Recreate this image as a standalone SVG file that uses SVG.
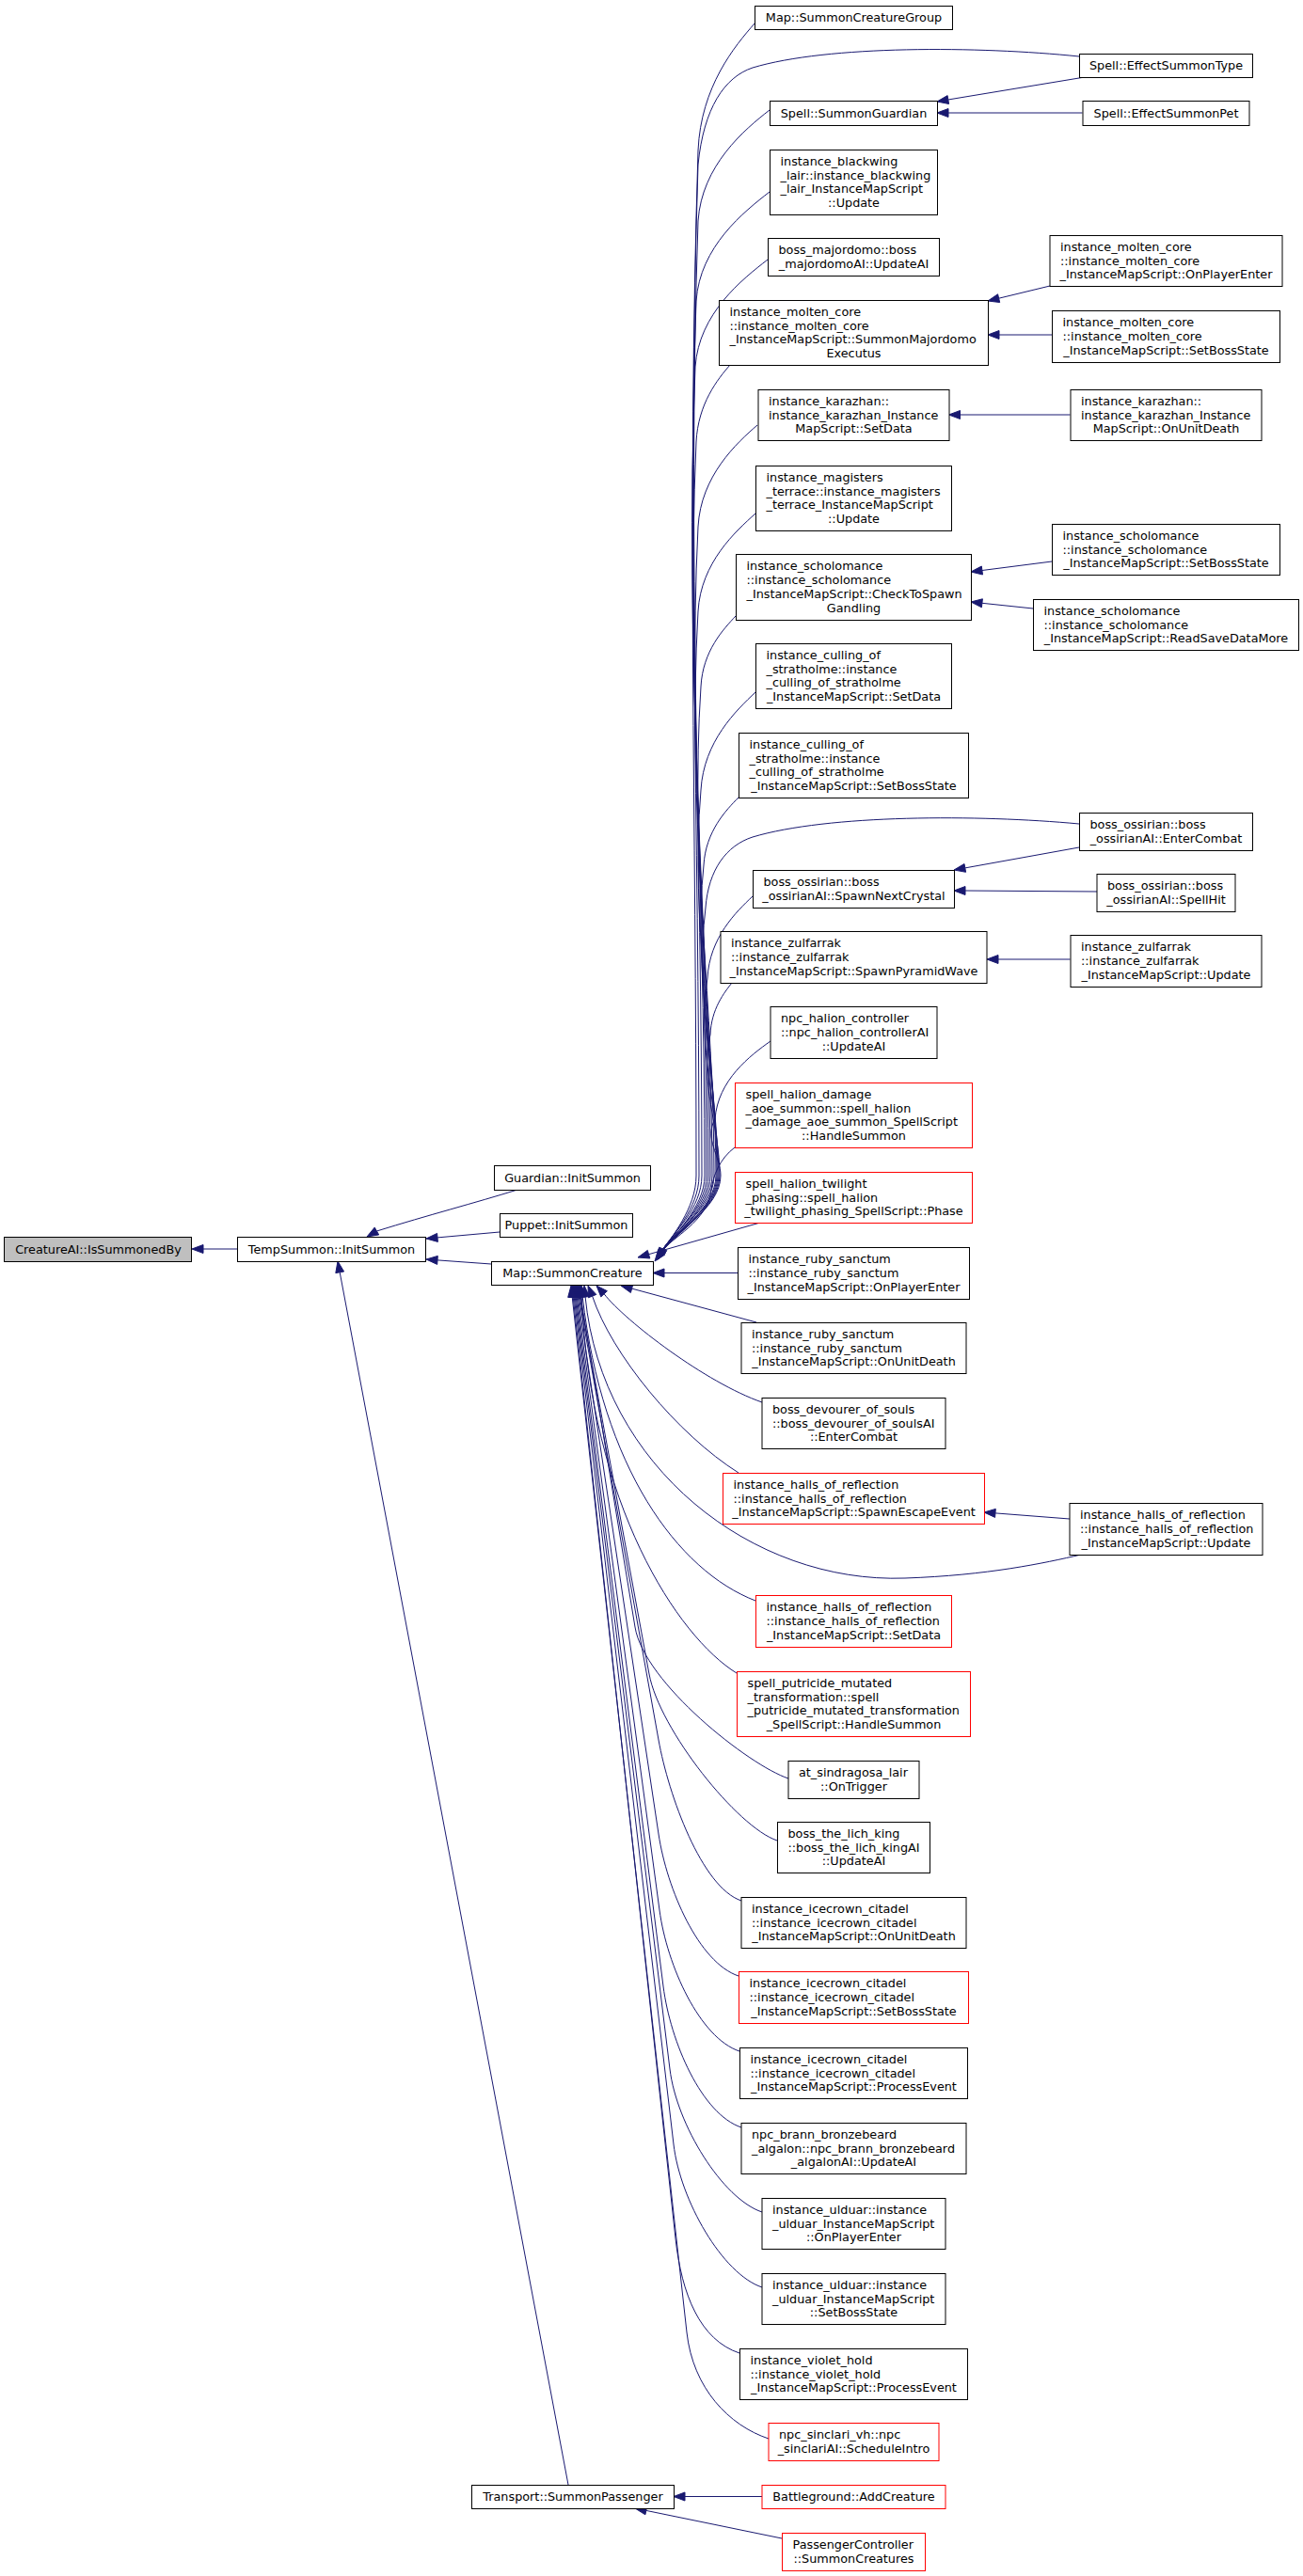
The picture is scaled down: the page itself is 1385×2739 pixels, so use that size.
<svg xmlns="http://www.w3.org/2000/svg" width="1385" height="2739" viewBox="0 0 1385 2739">
<style>
.n rect{fill:#fff;stroke:#000;stroke-width:1}
.r rect{stroke:#f00}
.g rect{fill:#bfbfbf}
text{font-family:"DejaVu Sans","Liberation Sans",sans-serif;font-size:12.8px;fill:#000}
text.c{text-anchor:middle}
#edges path{fill:none;stroke:#191970;stroke-width:1}
#edges polygon{fill:#191970;stroke:#191970;stroke-width:1}
</style>
<rect width="1385" height="2739" fill="#fff"/>
<g id="edges">
<path d="M252,1328 L216,1328"/><polygon points="204,1328 216,1323.5 216,1332.5"/>
<path d="M550,1265 C505,1279 455,1292 400.4,1309"/><polygon points="390,1315 402.7,1312.9 398.2,1305.1"/>
<path d="M531,1310 L465,1315.9"/><polygon points="453,1317 465.4,1320.4 464.6,1311.4"/>
<path d="M522,1344 L465,1339.9"/><polygon points="453,1339 464.7,1344.4 465.3,1335.4"/>
<path d="M604,2642 L361.2,1352.8"/><polygon points="359,1341 365.6,1352 356.8,1353.6"/>
<path d="M810,2654.5 L728,2654.5"/><polygon points="716,2654.5 728,2650 728,2659"/>
<path d="M831,2699 L686.8,2669.4"/><polygon points="675,2667 685.9,2673.8 687.7,2665"/>
<path d="M1153,82 L1007.8,106"/><polygon points="996,108 1008.6,110.5 1007.1,101.6"/>
<path d="M1150.5,120 L1008,120"/><polygon points="996,120 1008,115.5 1008,124.5"/>
<path d="M1116,304 L1061.7,317.2"/><polygon points="1050,320 1062.7,321.5 1060.6,312.8"/>
<path d="M1118,356 L1062,356"/><polygon points="1050,356 1062,351.5 1062,360.5"/>
<path d="M1137.5,441 L1020.5,441"/><polygon points="1008.5,441 1020.5,436.5 1020.5,445.5"/>
<path d="M1118,597 L1043.9,606.5"/><polygon points="1032,608 1044.5,611 1043.3,602"/>
<path d="M1098,647 L1043.9,641.3"/><polygon points="1032,640 1043.4,645.8 1044.4,636.8"/>
<path d="M1147,901 L1025.8,922.9"/><polygon points="1014,925 1026.6,927.3 1025,918.5"/>
<path d="M1166,948 L1026,947"/><polygon points="1014,947 1026,942.5 1026,951.5"/>
<path d="M1137.5,1020 L1061,1020"/><polygon points="1049,1020 1061,1015.5 1061,1024.5"/>
<path d="M1137,1615 L1058,1608.9"/><polygon points="1046,1608 1057.6,1613.4 1058.3,1604.4"/>
<path d="M802,25 C781,49 745,92 742,160 C730,542 740,868 740,1250 C740,1285 713.2,1315.4 703.2,1331.4"/>
<path d="M1147,60 C1040,49 880,48 800,72 C770,82 748,115 742,175 C730,551 743,874 743,1250 C743,1285 714,1313.6 704,1329.6"/>
<path d="M818,117 C791,138 746,176 742,235 C730,590 746,895 746,1250 C746,1285 714.8,1312 704.8,1328"/>
<path d="M818,204 C791,225 744,262 740,320 C728,646 749,925 749,1250 C749,1285 713.2,1315.4 703.2,1331.4"/>
<path d="M816,276 C789,297 743,333 739,390 C727,691 751,949 751,1250 C751,1285 714,1313.6 704,1329.6"/>
<path d="M776,388 C763,403 742,429 740,470 C728,743 753,977 753,1250 C753,1285 714.8,1312 704.8,1328"/>
<path d="M805,452 C783,471 745,506 742,560 C730,802 755,1008 755,1250 C755,1285 713.2,1315.4 703.2,1331.4"/>
<path d="M803,546 C782,565 745,598 742,650 C730,860 757,1040 757,1250 C757,1285 714,1313.6 704,1329.6"/>
<path d="M782,655 C769,669 747,692 745,730 C733,912 759,1068 759,1250 C759,1285 714.8,1312 704.8,1328"/>
<path d="M803,736 C783,755 748,788 745,840 C733,984 761,1107 761,1250 C761,1285 713.2,1315.4 703.2,1331.4"/>
<path d="M785,848 C772,861 750,884 748,920 C736,1036 762,1135 762,1250 C762,1285 714,1313.6 704,1329.6"/>
<path d="M1147,876 C1040,866 880,866 800,890 C772,899 753,925 750,965 C738,1065 763,1150 763,1250 C763,1285 714.8,1312 704.8,1328"/>
<path d="M800,953 C783,969 754,997 752,1040 C740,1114 764,1177 764,1250 C764,1285 713.2,1315.4 703.2,1331.4"/>
<path d="M778,1045 C770,1055 756,1073 755,1100 C743,1152 765,1197 765,1250 C765,1285 714,1313.6 704,1329.6"/>
<path d="M819,1107 C798,1122 763,1148 760,1190 C748,1211 766,1229 766,1250 C766,1285 714.8,1312 704.8,1328"/>
<path d="M781,1220 C765,1232 758,1250 756,1265 C752,1300 713.2,1315.4 703.2,1331.4"/>
<polygon points="698,1340 707.9,1331.9 700.1,1327.4"/>
<polygon points="696,1341 706.8,1334.1 699.6,1328.7"/>
<polygon points="700,1339 708.9,1329.8 700.7,1326.2"/>
<path d="M808,1300 L689.5,1333.7"/><polygon points="678,1337 690.8,1338 688.3,1329.4"/>
<path d="M784,1353.5 L706,1353.5"/><polygon points="694,1353.5 706,1349 706,1358"/>
<path d="M804,1406 L671.6,1370.1"/><polygon points="660,1367 670.4,1374.5 672.8,1365.8"/>
<path d="M810,1491 C750,1470 665,1405 642.1,1375.8"/><polygon points="634,1367 638.8,1378.9 645.4,1372.7"/>
<path d="M785,1566 C720,1525 650,1440 629.6,1378.1"/><polygon points="625,1367 625.5,1379.8 633.8,1376.4"/>
<path d="M1149,1653 C1110,1662 1050,1675 962,1678 C800,1684 640,1560 622.1,1379"/><polygon points="621,1367 626.6,1378.6 617.6,1379.4"/>
<path d="M803,1702 C720,1670 640,1560 619.2,1378.9"/><polygon points="618,1367 623.7,1378.5 614.7,1379.4"/>
<path d="M783,1779 C720,1740 628,1600 618.2,1378.9"/><polygon points="617,1367 622.7,1378.5 613.7,1379.4"/>
<path d="M838,1891 C796,1877 684.7,1789.2 675,1730 L617.2,1378.9"/><polygon points="616,1367 621.7,1378.5 612.7,1379.4"/>
<path d="M826,1957 C784,1943 700.9,1839 690,1780 L616.2,1378.9"/><polygon points="615,1367 620.7,1378.5 611.7,1379.4"/>
<path d="M788,2021 C746,2007 710.6,1909 700,1850 L615.2,1378.9"/><polygon points="614,1367 619.7,1378.5 610.7,1379.4"/>
<path d="M785,2101 C743,2087 708.9,2009.3 700,1950 L614.2,1378.9"/><polygon points="613,1367 618.7,1378.5 609.7,1379.4"/>
<path d="M786,2181 C744,2167 709,2090.5 701,2031 L613.2,1378.9"/><polygon points="612,1367 617.7,1378.5 608.7,1379.4"/>
<path d="M788,2262 C746,2248 712.6,2171.5 705,2112 L612.2,1378.9"/><polygon points="611,1367 616.7,1378.5 607.7,1379.4"/>
<path d="M810,2352 C768,2338 719.3,2259.6 712,2200 L611.2,1378.9"/><polygon points="610,1367 615.7,1378.5 606.7,1379.4"/>
<path d="M810,2432 C768,2418 723,2339.6 716,2280 L610.2,1378.9"/><polygon points="609,1367 614.7,1378.5 605.7,1379.4"/>
<path d="M786,2502 C744,2488 724.5,2439.6 718,2380 L609.2,1378.9"/><polygon points="608,1367 613.7,1378.5 604.7,1379.4"/>
<path d="M817,2593 C775,2579 736.6,2539.6 730,2480 L608.2,1378.9"/><polygon points="607,1367 612.7,1378.5 603.7,1379.4"/>
</g>
<g id="nodes" transform="translate(0.5,0.5)">
<g id="n1" class="n g"><rect x="4" y="1315" width="199" height="26"/><text class="c" x="104" y="1332">CreatureAI::IsSummonedBy</text></g>
<g id="n2" class="n"><rect x="252" y="1315" width="200" height="26"/><text class="c" x="352" y="1332">TempSummon::InitSummon</text></g>
<g id="n3" class="n"><rect x="525" y="1239" width="166" height="26"/><text class="c" x="608" y="1256">Guardian::InitSummon</text></g>
<g id="n4" class="n"><rect x="531" y="1290" width="141" height="25"/><text class="c" x="601.5" y="1306.5">Puppet::InitSummon</text></g>
<g id="n5" class="n"><rect x="522" y="1341" width="172" height="25"/><text class="c" x="608" y="1357.5">Map::SummonCreature</text></g>
<g id="n6" class="n"><rect x="501" y="2642" width="215" height="25"/><text class="c" x="608.5" y="2658.5">Transport::SummonPassenger</text></g>
<g id="n7" class="n"><rect x="802" y="6" width="210" height="25"/><text class="c" x="907" y="22.5">Map::SummonCreatureGroup</text></g>
<g id="n8" class="n"><rect x="818" y="107" width="178" height="26"/><text class="c" x="907" y="124">Spell::SummonGuardian</text></g>
<g id="n9" class="n"><rect x="818" y="159" width="178" height="69"/><text x="829" y="175.3">instance_blackwing</text><text x="829" y="190.1">_lair::instance_blackwing</text><text x="829" y="204.9">_lair_InstanceMapScript</text><text class="c" x="907" y="219.7">::Update</text></g>
<g id="n10" class="n"><rect x="816" y="253" width="182" height="40"/><text x="827" y="269.6">boss_majordomo::boss</text><text class="c" x="907" y="284.4">_majordomoAI::UpdateAI</text></g>
<g id="n11" class="n"><rect x="764" y="319" width="286" height="69"/><text x="775" y="335.3">instance_molten_core</text><text x="775" y="350.1">::instance_molten_core</text><text x="775" y="364.9">_InstanceMapScript::SummonMajordomo</text><text class="c" x="907" y="379.7">Executus</text></g>
<g id="n12" class="n"><rect x="805.5" y="414" width="203" height="54"/><text x="816.5" y="430.2">instance_karazhan::</text><text x="816.5" y="445">instance_karazhan_Instance</text><text class="c" x="907" y="459.8">MapScript::SetData</text></g>
<g id="n13" class="n"><rect x="803" y="495" width="208" height="69"/><text x="814" y="511.3">instance_magisters</text><text x="814" y="526.1">_terrace::instance_magisters</text><text x="814" y="540.9">_terrace_InstanceMapScript</text><text class="c" x="907" y="555.7">::Update</text></g>
<g id="n14" class="n"><rect x="782" y="589" width="250" height="70"/><text x="793" y="605.8">instance_scholomance</text><text x="793" y="620.6">::instance_scholomance</text><text x="793" y="635.4">_InstanceMapScript::CheckToSpawn</text><text class="c" x="907" y="650.2">Gandling</text></g>
<g id="n15" class="n"><rect x="803" y="684" width="208" height="69"/><text x="814" y="700.3">instance_culling_of</text><text x="814" y="715.1">_stratholme::instance</text><text x="814" y="729.9">_culling_of_stratholme</text><text class="c" x="907" y="744.7">_InstanceMapScript::SetData</text></g>
<g id="n16" class="n"><rect x="785" y="779" width="244" height="69"/><text x="796" y="795.3">instance_culling_of</text><text x="796" y="810.1">_stratholme::instance</text><text x="796" y="824.9">_culling_of_stratholme</text><text class="c" x="907" y="839.7">_InstanceMapScript::SetBossState</text></g>
<g id="n17" class="n"><rect x="800" y="925" width="214" height="40"/><text x="811" y="941.6">boss_ossirian::boss</text><text class="c" x="907" y="956.4">_ossirianAI::SpawnNextCrystal</text></g>
<g id="n18" class="n"><rect x="765.5" y="990" width="283" height="55"/><text x="776.5" y="1006.7">instance_zulfarrak</text><text x="776.5" y="1021.5">::instance_zulfarrak</text><text class="c" x="907" y="1036.3">_InstanceMapScript::SpawnPyramidWave</text></g>
<g id="n19" class="n"><rect x="818.5" y="1070" width="177" height="55"/><text x="829.5" y="1086.7">npc_halion_controller</text><text x="829.5" y="1101.5">::npc_halion_controllerAI</text><text class="c" x="907" y="1116.3">::UpdateAI</text></g>
<g id="n20" class="n r"><rect x="781" y="1151" width="252" height="69"/><text x="792" y="1167.3">spell_halion_damage</text><text x="792" y="1182.1">_aoe_summon::spell_halion</text><text x="792" y="1196.9">_damage_aoe_summon_SpellScript</text><text class="c" x="907" y="1211.7">::HandleSummon</text></g>
<g id="n21" class="n r"><rect x="781" y="1246" width="252" height="54"/><text x="792" y="1262.2">spell_halion_twilight</text><text x="792" y="1277">_phasing::spell_halion</text><text class="c" x="907" y="1291.8">_twilight_phasing_SpellScript::Phase</text></g>
<g id="n22" class="n"><rect x="784" y="1326" width="246" height="55"/><text x="795" y="1342.7">instance_ruby_sanctum</text><text x="795" y="1357.5">::instance_ruby_sanctum</text><text class="c" x="907" y="1372.3">_InstanceMapScript::OnPlayerEnter</text></g>
<g id="n23" class="n"><rect x="787.5" y="1406" width="239" height="54"/><text x="798.5" y="1422.2">instance_ruby_sanctum</text><text x="798.5" y="1437">::instance_ruby_sanctum</text><text class="c" x="907" y="1451.8">_InstanceMapScript::OnUnitDeath</text></g>
<g id="n24" class="n"><rect x="809.5" y="1486" width="195" height="54"/><text x="820.5" y="1502.2">boss_devourer_of_souls</text><text x="820.5" y="1517">::boss_devourer_of_soulsAI</text><text class="c" x="907" y="1531.8">::EnterCombat</text></g>
<g id="n25" class="n r"><rect x="768" y="1566" width="278" height="54"/><text x="779" y="1582.2">instance_halls_of_reflection</text><text x="779" y="1597">::instance_halls_of_reflection</text><text class="c" x="907" y="1611.8">_InstanceMapScript::SpawnEscapeEvent</text></g>
<g id="n26" class="n r"><rect x="803" y="1696" width="208" height="55"/><text x="814" y="1712.7">instance_halls_of_reflection</text><text x="814" y="1727.5">::instance_halls_of_reflection</text><text class="c" x="907" y="1742.3">_InstanceMapScript::SetData</text></g>
<g id="n27" class="n r"><rect x="783" y="1777" width="248" height="69"/><text x="794" y="1793.3">spell_putricide_mutated</text><text x="794" y="1808.1">_transformation::spell</text><text x="794" y="1822.9">_putricide_mutated_transformation</text><text class="c" x="907" y="1837.7">_SpellScript::HandleSummon</text></g>
<g id="n28" class="n"><rect x="837.5" y="1872" width="139" height="40"/><text x="848.5" y="1888.6">at_sindragosa_lair</text><text class="c" x="907" y="1903.4">::OnTrigger</text></g>
<g id="n29" class="n"><rect x="826" y="1937" width="162" height="54"/><text x="837" y="1953.2">boss_the_lich_king</text><text x="837" y="1968">::boss_the_lich_kingAI</text><text class="c" x="907" y="1982.8">::UpdateAI</text></g>
<g id="n30" class="n"><rect x="787.5" y="2017" width="239" height="54"/><text x="798.5" y="2033.2">instance_icecrown_citadel</text><text x="798.5" y="2048">::instance_icecrown_citadel</text><text class="c" x="907" y="2062.8">_InstanceMapScript::OnUnitDeath</text></g>
<g id="n31" class="n r"><rect x="785" y="2096" width="244" height="55"/><text x="796" y="2112.7">instance_icecrown_citadel</text><text x="796" y="2127.5">::instance_icecrown_citadel</text><text class="c" x="907" y="2142.3">_InstanceMapScript::SetBossState</text></g>
<g id="n32" class="n"><rect x="786" y="2177" width="242" height="54"/><text x="797" y="2193.2">instance_icecrown_citadel</text><text x="797" y="2208">::instance_icecrown_citadel</text><text class="c" x="907" y="2222.8">_InstanceMapScript::ProcessEvent</text></g>
<g id="n33" class="n"><rect x="787.5" y="2257" width="239" height="54"/><text x="798.5" y="2273.2">npc_brann_bronzebeard</text><text x="798.5" y="2288">_algalon::npc_brann_bronzebeard</text><text class="c" x="907" y="2302.8">_algalonAI::UpdateAI</text></g>
<g id="n34" class="n"><rect x="809.5" y="2337" width="195" height="54"/><text x="820.5" y="2353.2">instance_ulduar::instance</text><text x="820.5" y="2368">_ulduar_InstanceMapScript</text><text class="c" x="907" y="2382.8">::OnPlayerEnter</text></g>
<g id="n35" class="n"><rect x="809.5" y="2417" width="195" height="54"/><text x="820.5" y="2433.2">instance_ulduar::instance</text><text x="820.5" y="2448">_ulduar_InstanceMapScript</text><text class="c" x="907" y="2462.8">::SetBossState</text></g>
<g id="n36" class="n"><rect x="786" y="2497" width="242" height="54"/><text x="797" y="2513.2">instance_violet_hold</text><text x="797" y="2528">::instance_violet_hold</text><text class="c" x="907" y="2542.8">_InstanceMapScript::ProcessEvent</text></g>
<g id="n37" class="n r"><rect x="816.5" y="2576" width="181" height="40"/><text x="827.5" y="2592.6">npc_sinclari_vh::npc</text><text class="c" x="907" y="2607.4">_sinclariAI::ScheduleIntro</text></g>
<g id="n38" class="n r"><rect x="809.5" y="2642" width="195" height="25"/><text class="c" x="907" y="2658.5">Battleground::AddCreature</text></g>
<g id="n39" class="n r"><rect x="831" y="2693" width="152" height="40"/><text x="842" y="2709.6">PassengerController</text><text class="c" x="907" y="2724.4">::SummonCreatures</text></g>
<g id="n40" class="n"><rect x="1147" y="57" width="184" height="25"/><text class="c" x="1239" y="73.5">Spell::EffectSummonType</text></g>
<g id="n41" class="n"><rect x="1150.5" y="107" width="177" height="26"/><text class="c" x="1239" y="124">Spell::EffectSummonPet</text></g>
<g id="n42" class="n"><rect x="1115.5" y="250" width="247" height="54"/><text x="1126.5" y="266.2">instance_molten_core</text><text x="1126.5" y="281">::instance_molten_core</text><text class="c" x="1239" y="295.8">_InstanceMapScript::OnPlayerEnter</text></g>
<g id="n43" class="n"><rect x="1118" y="330" width="242" height="55"/><text x="1129" y="346.7">instance_molten_core</text><text x="1129" y="361.5">::instance_molten_core</text><text class="c" x="1239" y="376.3">_InstanceMapScript::SetBossState</text></g>
<g id="n44" class="n"><rect x="1137.5" y="414" width="203" height="54"/><text x="1148.5" y="430.2">instance_karazhan::</text><text x="1148.5" y="445">instance_karazhan_Instance</text><text class="c" x="1239" y="459.8">MapScript::OnUnitDeath</text></g>
<g id="n45" class="n"><rect x="1118" y="557" width="242" height="54"/><text x="1129" y="573.2">instance_scholomance</text><text x="1129" y="588">::instance_scholomance</text><text class="c" x="1239" y="602.8">_InstanceMapScript::SetBossState</text></g>
<g id="n46" class="n"><rect x="1098" y="637" width="282" height="54"/><text x="1109" y="653.2">instance_scholomance</text><text x="1109" y="668">::instance_scholomance</text><text class="c" x="1239" y="682.8">_InstanceMapScript::ReadSaveDataMore</text></g>
<g id="n47" class="n"><rect x="1147" y="864" width="184" height="40"/><text x="1158" y="880.6">boss_ossirian::boss</text><text class="c" x="1239" y="895.4">_ossirianAI::EnterCombat</text></g>
<g id="n48" class="n"><rect x="1165.5" y="929" width="147" height="40"/><text x="1176.5" y="945.6">boss_ossirian::boss</text><text class="c" x="1239" y="960.4">_ossirianAI::SpellHit</text></g>
<g id="n49" class="n"><rect x="1137.5" y="994" width="203" height="55"/><text x="1148.5" y="1010.7">instance_zulfarrak</text><text x="1148.5" y="1025.5">::instance_zulfarrak</text><text class="c" x="1239" y="1040.3">_InstanceMapScript::Update</text></g>
<g id="n50" class="n"><rect x="1136.5" y="1598" width="205" height="55"/><text x="1147.5" y="1614.7">instance_halls_of_reflection</text><text x="1147.5" y="1629.5">::instance_halls_of_reflection</text><text class="c" x="1239" y="1644.3">_InstanceMapScript::Update</text></g>
</g>
</svg>
